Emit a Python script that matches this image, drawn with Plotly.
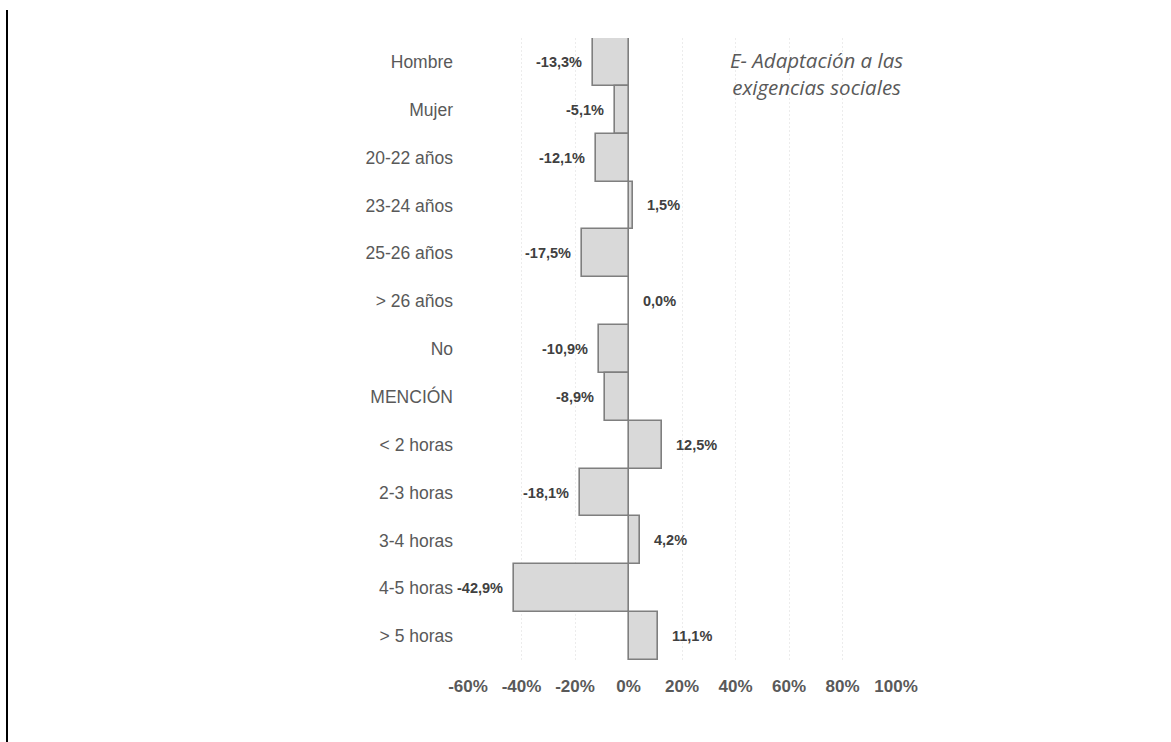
import plotly.graph_objects as go

# Categorías (de arriba a abajo) y diferencias porcentuales
categorias = ["Hombre", "Mujer", "20-22 años", "23-24 años", "25-26 años", "> 26 años",
              "No", "MENCIÓN", "< 2 horas", "2-3 horas", "3-4 horas", "4-5 horas", "> 5 horas"]
valores = [-13.3, -5.1, -12.1, 1.5, -17.5, 0.0, -10.9, -8.9, 12.5, -18.1, 4.2, -42.9, 11.1]
ticks_x = [-60, -40, -20, 0, 20, 40, 60, 80, 100]
etiquetas_x = [f"{t}%" for t in ticks_x]
titulo = "E- Adaptación a las<br>exigencias sociales"

GRIS_TEXTO = "#595959"
W, H = 1171, 742
ML, MR, MT, MB = 468, 275, 38, 82
PW, PH = W - ML - MR, H - MT - MB

fig = go.Figure()
fig.add_trace(go.Bar(
    x=valores, y=categorias, orientation="h",
    marker=dict(color="#d9d9d9", line=dict(color="#7f7f7f", width=1.6)),
    hoverinfo="skip", showlegend=False,
))

# Etiquetas de valor junto a cada barra
for cat, v in zip(categorias, valores):
    texto = f"{v:.1f}%".replace(".", ",")
    neg = v < 0
    fig.add_annotation(
        x=v, y=cat, xref="x", yref="y", text=texto, showarrow=False,
        xanchor="right" if neg else "left", xshift=-9 if neg else 12,
        font=dict(family="Liberation Sans, Arial", size=14.5, color="#404040", weight="bold"),
    )

# Título del panel
fig.add_annotation(
    x=(816 - ML) / PW, y=1 - (74 - MT) / PH, xref="paper", yref="paper",
    xanchor="center", yanchor="middle", showarrow=False, text=titulo, align="center",
    font=dict(family="Open Sans", size=20.5, color=GRIS_TEXTO, style="italic"),
)

# Línea vertical del borde izquierdo
x_linea = (7 - ML) / PW
fig.add_shape(type="line", xref="paper", yref="paper",
              x0=x_linea, x1=x_linea, y0=-MB / PH, y1=1 + (MT - 10) / PH,
              line=dict(color="black", width=2))

fig.update_layout(
    width=W, height=H,
    margin=dict(l=ML, r=MR, t=MT, b=MB, pad=0),
    paper_bgcolor="white", plot_bgcolor="white",
    bargap=0,
    xaxis=dict(
        range=[-60, 100], tickvals=ticks_x, ticktext=etiquetas_x,
        showgrid=True, gridcolor="#ececec", griddash="2px,2px", gridwidth=1,
        zeroline=False, showline=False, ticks="",
        ticklabelstandoff=14,
        tickfont=dict(family="Liberation Sans, Arial", size=17, color=GRIS_TEXTO, weight="bold"),
        fixedrange=True,
    ),
    yaxis=dict(
        type="category", categoryorder="array", categoryarray=categorias,
        autorange="reversed", showgrid=False, zeroline=False, showline=False, ticks="",
        ticklabelstandoff=14,
        tickfont=dict(family="Liberation Sans, Arial", size=17.5, color=GRIS_TEXTO),
        fixedrange=True,
    ),
)

fig.write_html("out.html")
